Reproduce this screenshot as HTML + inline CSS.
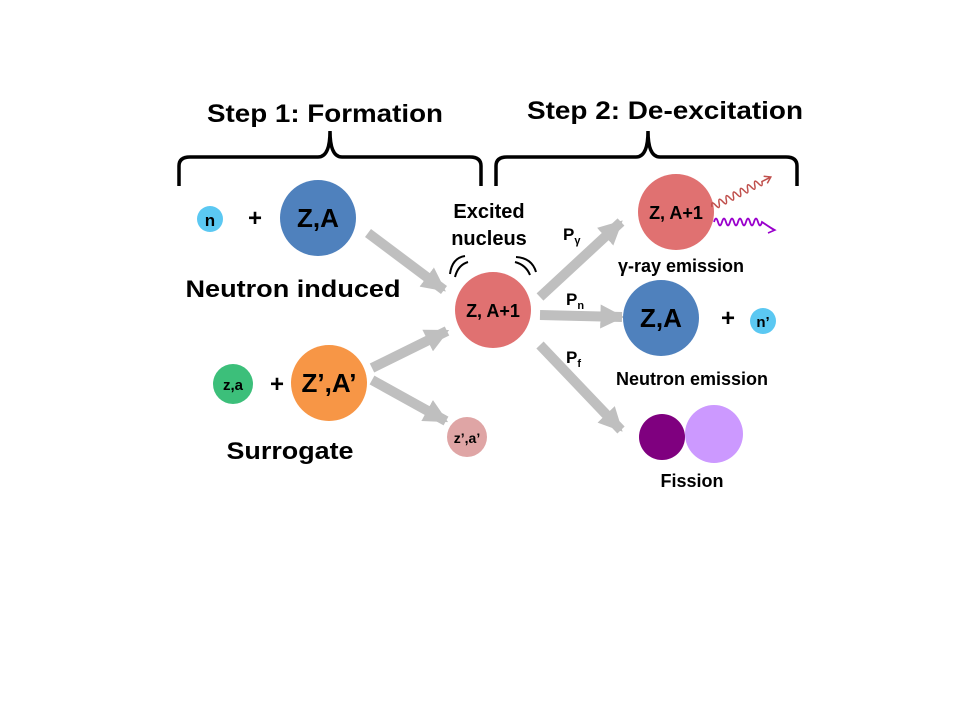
<!DOCTYPE html>
<html><head><meta charset="utf-8"><style>
html,body{margin:0;padding:0;background:#fff;}
svg{display:block;}
text{font-family:"Liberation Sans",Arial,sans-serif;font-weight:bold;fill:#000;}
</style></head><body>
<svg width="960" height="720" viewBox="0 0 960 720" xmlns="http://www.w3.org/2000/svg">
<defs>
<marker id="ah" viewBox="0 0 10 10" refX="9" refY="5" markerWidth="2.4" markerHeight="2.4" orient="auto" markerUnits="strokeWidth">
<path d="M0,0 L10,5 L0,10 z" fill="#bfbfbf"/></marker>
</defs>
<text x="325" y="122" font-size="25" text-anchor="middle" textLength="236" lengthAdjust="spacingAndGlyphs">Step 1: Formation</text>
<text x="665" y="119" font-size="25" text-anchor="middle" textLength="276" lengthAdjust="spacingAndGlyphs">Step 2: De-excitation</text>
<g fill="none" stroke="#000" stroke-width="3.5">
<path d="M179,186 L179,166 Q179,157 190,157 L318,157 Q330,157 330,131 Q330,157 342,157 L470,157 Q481,157 481,166 L481,186"/>
<path d="M496,186 L496,166 Q496,157 507,157 L636,157 Q648,157 648,131 Q648,157 660,157 L786,157 Q797,157 797,166 L797,186"/>
</g>
<g stroke="#bfbfbf" stroke-width="10" fill="none" marker-end="url(#ah)">
<line x1="368" y1="233" x2="444" y2="290"/>
<line x1="372" y1="368" x2="447" y2="331"/>
<line x1="372" y1="380" x2="446" y2="421"/>
<line x1="540" y1="297" x2="621" y2="222"/>
<line x1="540" y1="315" x2="622" y2="317"/>
<line x1="540" y1="345" x2="621" y2="430"/>
</g>
<circle cx="210" cy="219" r="13" fill="#5bc8f2"/>
<text x="210" y="226" font-size="17" text-anchor="middle">n</text>
<text x="255" y="226" font-size="24" text-anchor="middle">+</text>
<circle cx="318" cy="218" r="38" fill="#4f81bd"/>
<text x="318" y="227" font-size="26" text-anchor="middle">Z,A</text>
<text x="293" y="297" font-size="24" text-anchor="middle" textLength="215" lengthAdjust="spacingAndGlyphs">Neutron induced</text>
<circle cx="233" cy="384" r="20" fill="#3cbf7a"/>
<text x="233" y="390" font-size="15" text-anchor="middle">z,a</text>
<text x="277" y="392" font-size="24" text-anchor="middle">+</text>
<circle cx="329" cy="383" r="38" fill="#f79646"/>
<text x="329" y="392" font-size="26" text-anchor="middle">Z’,A’</text>
<text x="290" y="459" font-size="24" text-anchor="middle" textLength="127" lengthAdjust="spacingAndGlyphs">Surrogate</text>
<circle cx="467" cy="437" r="20" fill="#dfa5a5"/>
<text x="467" y="443" font-size="14" text-anchor="middle">z’,a’</text>
<text x="489" y="218" font-size="20" text-anchor="middle">Excited</text>
<text x="489" y="245" font-size="20" text-anchor="middle">nucleus</text>
<g fill="none" stroke="#000" stroke-width="2">
<path d="M455,277 Q458,265 468,262"/><path d="M450,274 Q452,258 465,256"/>
<path d="M515,262 Q526,265 530,275"/><path d="M516,257 Q532,258 536,272"/>
</g>
<circle cx="493" cy="310" r="38" fill="#e07171"/>
<text x="493" y="317" font-size="18" text-anchor="middle">Z, A+1</text>
<text x="563" y="240" font-size="17">P<tspan font-size="11" dy="4">γ</tspan></text>
<text x="566" y="305" font-size="17">P<tspan font-size="11" dy="4">n</tspan></text>
<text x="566" y="363" font-size="17">P<tspan font-size="11" dy="4">f</tspan></text>
<circle cx="676" cy="212" r="38" fill="#e07171"/>
<text x="676" y="219" font-size="18" text-anchor="middle">Z, A+1</text>
<g transform="translate(712,207) rotate(-27)" fill="none" stroke="#c0504d" stroke-width="1.5">
<path d="M0,0 q2,-7 4,0 q2,7 4,0 q2,-7 4,0 q2,7 4,0 q2,-7 4,0 q2,7 4,0 q2,-7 4,0 q2,7 4,0 q2,-7 4,0 q2,7 4,0 q2,-7 4,0 q2,7 4,0 q2,-7 4,0 q2,7 4,0 L66,0"/>
<path d="M60,-4 L66,0 L60,4"/>
</g>
<path d="M714,222 q2,-7 4,0 q2,7 4,0 q2,-7 4,0 q2,7 4,0 q2,-7 4,0 q2,7 4,0 q2,-7 4,0 q2,7 4,0 q2,-7 4,0 q2,7 4,0 q2,-7 4,0 q2,7 4,0 L774,230" fill="none" stroke="#9900cc" stroke-width="1.8"/>
<path d="M768,226 L775,230 L768,233" fill="none" stroke="#9900cc" stroke-width="1.5"/>
<text x="681" y="272" font-size="18" text-anchor="middle">γ-ray emission</text>
<circle cx="661" cy="318" r="38" fill="#4f81bd"/>
<text x="661" y="327" font-size="26" text-anchor="middle">Z,A</text>
<text x="728" y="326" font-size="24" text-anchor="middle">+</text>
<circle cx="763" cy="321" r="13" fill="#5bc8f2"/>
<text x="763" y="327" font-size="15" text-anchor="middle">n’</text>
<text x="692" y="385" font-size="18" text-anchor="middle">Neutron emission</text>
<circle cx="714" cy="434" r="29" fill="#cc99ff"/>
<circle cx="662" cy="437" r="23" fill="#7f007f"/>
<text x="692" y="487" font-size="18" text-anchor="middle">Fission</text>
</svg>
</body></html>
